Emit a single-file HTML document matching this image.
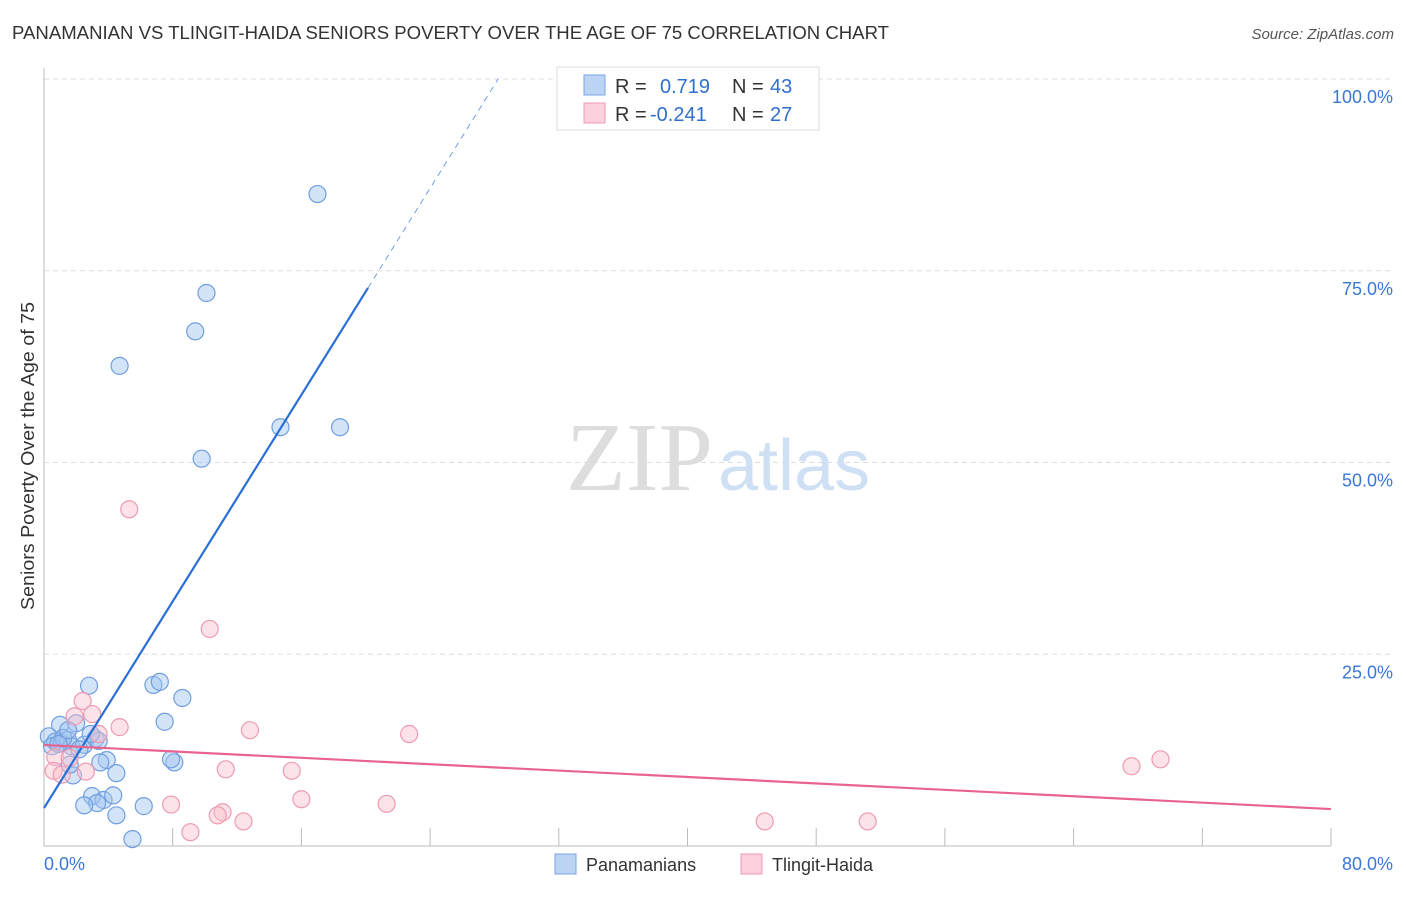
<!DOCTYPE html>
<html><head><meta charset="utf-8"><style>
body{margin:0;background:#fff;font-family:"Liberation Sans",sans-serif;}
</style></head><body>
<svg id="chart" width="1406" height="892" style="font-family:'Liberation Sans',sans-serif">
<text x="12" y="39" font-size="18" fill="#333" textLength="877" lengthAdjust="spacingAndGlyphs">PANAMANIAN VS TLINGIT-HAIDA SENIORS POVERTY OVER THE AGE OF 75 CORRELATION CHART</text>
<text x="1394" y="39" font-size="15" fill="#555" font-style="italic" text-anchor="end">Source: ZipAtlas.com</text>
<text transform="translate(34,456) rotate(-90)" font-size="18" fill="#333" text-anchor="middle" textLength="308" lengthAdjust="spacingAndGlyphs">Seniors Poverty Over the Age of 75</text>
<g id="grid"></g>
<text x="713" y="490" font-size="98" fill="#ddd" text-anchor="end" style="font-family:'Liberation Serif',serif">ZIP</text>
<text x="718" y="490" font-size="72" fill="#cfe0f5">atlas</text>
<g id="marks"></g>
<g>
<rect x="557" y="67" width="262" height="63" fill="#fff" stroke="#ddd"/>
<rect x="584" y="75" width="21" height="20" fill="#bcd4f4" stroke="#7aa5e6"/>
<rect x="584" y="103" width="21" height="20" fill="#fcd0dc" stroke="#f09ab2"/>
<text x="615" y="93" font-size="20" fill="#333">R =</text>
<text x="660" y="93" font-size="20" fill="#2f6fd0">0.719</text>
<text x="732" y="93" font-size="20" fill="#333">N =</text>
<text x="770" y="93" font-size="20" fill="#2f6fd0">43</text>
<text x="615" y="121" font-size="20" fill="#333">R =</text>
<text x="650" y="121" font-size="20" fill="#2f6fd0">-0.241</text>
<text x="732" y="121" font-size="20" fill="#333">N =</text>
<text x="770" y="121" font-size="20" fill="#2f6fd0">27</text>
</g>
<g>
<rect x="555" y="854" width="21" height="20" fill="#bcd4f4" stroke="#7aa5e6"/>
<text x="586" y="871" font-size="18" fill="#333">Panamanians</text>
<rect x="741" y="854" width="21" height="20" fill="#fcd0dc" stroke="#f09ab2"/>
<text x="772" y="871" font-size="18" fill="#333">Tlingit-Haida</text>
</g>
</svg>
<script>
const yTicks=[25,50,75,100];
const xTickLabels=["0.0%","80.0%"];
const blueX=[17.0,10.1,9.4,4.7,14.7,18.4,9.8,6.8,7.2,8.6,2.8,7.5,1.0,2.0,0.3,0.7,0.5,1.1,1.5,1.7,2.5,3.2,3.4,2.9,3.9,3.5,1.8,4.5,1.6,8.1,7.9,2.99,3.7,4.3,3.3,2.5,6.2,4.5,5.5,1.2,0.9,2.2,1.5];
const blueY=[85.0,72.1,67.1,62.6,54.6,54.6,50.5,21.0,21.4,19.3,20.9,16.2,15.8,16.0,14.3,13.6,13.0,13.4,13.8,13.0,13.2,14.0,13.7,14.6,11.2,10.9,9.2,9.5,10.6,10.9,11.3,6.5,6.0,6.6,5.6,5.3,5.2,4.0,0.9,14.1,13.3,12.6,15.1];
const pinkX=[5.3,10.3,2.4,1.9,3.0,4.7,12.8,3.4,22.7,0.7,1.6,2.6,11.3,15.4,67.6,69.4,0.6,1.1,7.9,11.1,16.0,21.3,10.8,12.4,9.1,44.8,51.2];
const pinkY=[43.9,28.3,18.9,16.9,17.2,15.5,15.1,14.6,14.6,11.6,11.5,9.7,10.0,9.8,10.4,11.3,9.8,9.3,5.4,4.4,6.1,5.5,4.0,3.2,1.8,3.2,3.2];
const blueFit=[4.95,3.367], pinkFit=[13.17,-0.1044];
const X=v=>44+v*16.0875, Y=v=>846-v*7.67;
const NS="http://www.w3.org/2000/svg";
function mk(t,a,p){const e=document.createElementNS(NS,t);for(const k in a)e.setAttribute(k,a[k]);p.appendChild(e);return e;}
const g=document.getElementById('grid'), m=document.getElementById('marks');
yTicks.forEach(t=>{
 const l=mk('line',{x1:44,x2:1394,y1:Y(t),y2:Y(t),stroke:'#ddd','stroke-dasharray':'5,4'},g);
 
 
 const tx=mk('text',{x:1393,y:Y(t)+24,'font-size':18,fill:'#3a78d6','text-anchor':'end'},g);
 tx.textContent=t.toFixed(1)+'%';
 
 
});
const ax=mk('line',{x1:44,x2:44,y1:68,y2:846,stroke:'#bbb'},g);


const bx=mk('line',{x1:44,x2:1331,y1:846,y2:846,stroke:'#bbb'},g);


for(let i=1;i<=10;i++){const t=mk('line',{x1:X(i*8),x2:X(i*8),y1:828,y2:846,stroke:'#bbb'},g);
 
 }
xTickLabels.forEach((s,i)=>{const t=mk('text',{x:i?1393:44,y:870,'font-size':18,fill:'#3a78d6','text-anchor':i?'end':'start'},g);t.textContent=s;
 
 });
blueX.forEach((x,i)=>{const c=mk('circle',{cx:X(x),cy:Y(blueY[i]),r:8.5,fill:'rgba(160,195,240,0.45)',stroke:'#6f9fe0','stroke-width':1.2},m);
 
 });
pinkX.forEach((x,i)=>{const c=mk('circle',{cx:X(x),cy:Y(pinkY[i]),r:8.5,fill:'rgba(250,190,205,0.45)',stroke:'#ee9ab2','stroke-width':1.2},m);
 
 });
const xe=20.14, xd=(100-blueFit[0])/blueFit[1];
const bl=mk('line',{x1:X(0),y1:Y(blueFit[0]),x2:X(xe),y2:Y(blueFit[0]+blueFit[1]*xe),stroke:'#2a6fd6','stroke-width':2.2},m);


const bd=mk('line',{x1:X(xe),y1:Y(blueFit[0]+blueFit[1]*xe),x2:X(xd),y2:Y(100),stroke:'#6f9fe0','stroke-width':1,'stroke-dasharray':'6,5'},m);


const pl=mk('line',{x1:X(0),y1:Y(pinkFit[0]),x2:X(80),y2:Y(pinkFit[0]+pinkFit[1]*80),stroke:'#e8648e','stroke-width':2.2},m);


</script>
</body></html>
